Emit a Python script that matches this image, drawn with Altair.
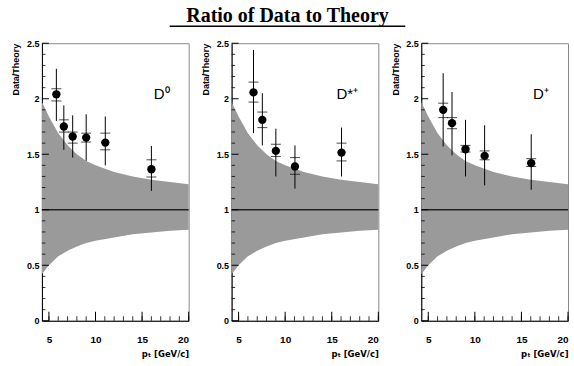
import altair as alt
import pandas as pd

# ---- data ----
band_pt = [4.25, 5, 6, 7, 8, 9, 10, 12, 14, 16, 18, 20]
band_hi = [1.97, 1.84, 1.69, 1.58, 1.50, 1.44, 1.40, 1.34, 1.30, 1.27, 1.25, 1.23]
band_lo = [0.42, 0.50, 0.58, 0.63, 0.67, 0.70, 0.72, 0.75, 0.78, 0.795, 0.81, 0.82]

pt_d0 = [5.8, 6.6, 7.55, 9.0, 11.05, 16.0]
ratio_d0 = [2.04, 1.75, 1.66, 1.65, 1.605, 1.365]
stat_lo_d0 = [1.98, 1.70, 1.60, 1.61, 1.54, 1.295]
stat_hi_d0 = [2.09, 1.81, 1.70, 1.69, 1.69, 1.45]
tot_lo_d0 = [1.80, 1.54, 1.47, 1.44, 1.40, 1.17]
tot_hi_d0 = [2.27, 1.94, 1.85, 1.86, 1.84, 1.575]

pt_dst = [6.6, 7.55, 9.0, 11.05, 16.05]
ratio_dst = [2.057, 1.81, 1.53, 1.39, 1.515]
stat_lo_dst = [1.97, 1.74, 1.48, 1.32, 1.44]
stat_hi_dst = [2.15, 1.88, 1.59, 1.47, 1.60]
tot_lo_dst = [1.69, 1.58, 1.30, 1.19, 1.30]
tot_hi_dst = [2.44, 2.05, 1.73, 1.58, 1.74]

pt_dp = [6.6, 7.55, 9.0, 11.05, 16.05]
ratio_dp = [1.90, 1.78, 1.545, 1.485, 1.42]
stat_lo_dp = [1.83, 1.73, 1.52, 1.45, 1.39]
stat_hi_dp = [1.96, 1.83, 1.58, 1.53, 1.46]
tot_lo_dp = [1.57, 1.49, 1.30, 1.22, 1.18]
tot_hi_dp = [2.23, 2.06, 1.81, 1.76, 1.68]

labels = ["D\u2070", "D*\u207a", "D\u207a"]
label_x = [112, 105, 112]

y_major = [0, 0.5, 1, 1.5, 2, 2.5]
y_minor = [0.1, 0.2, 0.3, 0.4, 0.6, 0.7, 0.8, 0.9, 1.1, 1.2, 1.3, 1.4,
           1.6, 1.7, 1.8, 1.9, 2.1, 2.2, 2.3, 2.4]
x_major = [5, 10, 15, 20]
x_minor = [5, 6, 7, 8, 9, 10, 11, 12, 13, 14, 15, 16, 17, 18, 19, 20]

title_text = "Ratio of Data to Theory"

W, H = 147, 278
xscale = alt.Scale(domain=[4.25, 20], nice=False, zero=False)
yscale = alt.Scale(domain=[0, 2.5], nice=False)

band_df = pd.DataFrame({"pt": band_pt, "hi": band_hi, "lo": band_lo})


def panel(pt, r, slo, shi, tlo, thi, label, lx, with_title=False):
    df = pd.DataFrame({"pt": pt, "r": r, "slo": slo, "shi": shi, "tlo": tlo, "thi": thi})
    xax = alt.Axis(values=x_major, format="~g", ticks=False, grid=False, domainColor="black",
                   labelFont="Liberation Sans", labelFontWeight="bold", labelFontSize=10,
                   labelPadding=14, labelColor="black",
                   title="p\u209c  [GeV/c]", titleFont="DejaVu Sans", titleFontSize=8.5,
                   titleFontWeight="bold", titleAnchor="end", titlePadding=5, titleColor="black")
    yax = alt.Axis(values=y_major, format="~g", ticks=False, grid=False, domainColor="black",
                   labelFont="Liberation Sans", labelFontWeight="bold", labelFontSize=9,
                   labelPadding=3, labelColor="black",
                   title="Data/Theory", titleFont="Liberation Sans", titleFontSize=9,
                   titleFontWeight="bold", titleAnchor="end", titleAngle=270,
                   titleAlign="right", titleBaseline="bottom", titleX=-21, titleY=0,
                   titleColor="black")

    band = alt.Chart(band_df).mark_area(color="#9a9a9a", opacity=1).encode(
        x=alt.X("pt:Q", scale=xscale, axis=xax),
        y=alt.Y("hi:Q", scale=yscale, axis=yax),
        y2="lo:Q",
    )
    one = alt.Chart(pd.DataFrame({"v": [1]})).mark_rule(color="#222222", strokeWidth=1.6).encode(
        y="v:Q", x=alt.value(0), x2=alt.value(W))
    err = alt.Chart(df).mark_rule(color="black", strokeWidth=1).encode(
        x="pt:Q", y="tlo:Q", y2="thi:Q")
    caps_lo = alt.Chart(df).mark_tick(color="black", thickness=1, size=10, orient="horizontal").encode(
        x="pt:Q", y="slo:Q")
    caps_hi = alt.Chart(df).mark_tick(color="black", thickness=1, size=10, orient="horizontal").encode(
        x="pt:Q", y="shi:Q")
    pts = alt.Chart(df).mark_circle(color="black", opacity=1, size=70).encode(
        x="pt:Q", y="r:Q")
    ymaj = alt.Chart(pd.DataFrame({"v": y_major})).mark_rule(color="black", strokeWidth=1).encode(
        y="v:Q", x=alt.value(0), x2=alt.value(7))
    ymin = alt.Chart(pd.DataFrame({"v": y_minor})).mark_rule(color="black", strokeWidth=0.8).encode(
        y="v:Q", x=alt.value(0), x2=alt.value(3.5))
    xmaj = alt.Chart(pd.DataFrame({"v": x_major})).mark_rule(color="black", strokeWidth=1).encode(
        x="v:Q", y=alt.value(H), y2=alt.value(H - 9))
    xmin = alt.Chart(pd.DataFrame({"v": x_minor})).mark_rule(color="black", strokeWidth=0.8).encode(
        x="v:Q", y=alt.value(H), y2=alt.value(H - 4.5))
    lab = alt.Chart(pd.DataFrame({"t": [label]})).mark_text(
        font="Liberation Sans", fontSize=15, align="left", baseline="alphabetic", color="black"
    ).encode(text="t:N", x=alt.value(lx), y=alt.value(56))
    layers = [band, one, err, caps_lo, caps_hi, pts, ymin, ymaj, xmin, xmaj, lab]
    if with_title:
        ttl = alt.Chart(pd.DataFrame({"t": [title_text]})).mark_text(
            font="Liberation Serif", fontSize=20, fontWeight="bold", align="center",
            baseline="alphabetic", color="black"
        ).encode(text="t:N", x=alt.value(56), y=alt.value(-21))
        uline = alt.Chart(pd.DataFrame({"t": [title_text]})).mark_rule(
            color="black", strokeWidth=1.5).encode(
            x=alt.value(-62), x2=alt.value(174), y=alt.value(-17))
        layers += [ttl, uline]
    return alt.layer(*layers).properties(width=W, height=H)


p1 = panel(pt_d0, ratio_d0, stat_lo_d0, stat_hi_d0, tot_lo_d0, tot_hi_d0, labels[0], label_x[0])
p2 = panel(pt_dst, ratio_dst, stat_lo_dst, stat_hi_dst, tot_lo_dst, tot_hi_dst, labels[1], label_x[1], True)
p3 = panel(pt_dp, ratio_dp, stat_lo_dp, stat_hi_dp, tot_lo_dp, tot_hi_dp, labels[2], label_x[2])

chart = alt.hconcat(p1, p2, p3, spacing=43, bounds="flush").properties(
    padding={"left": 11, "top": 5, "right": 4, "bottom": 2},
    background="white",
).configure_view(stroke="#888888", strokeWidth=1)

chart.save("out.html", embed_options={"renderer": "svg", "actions": False})
